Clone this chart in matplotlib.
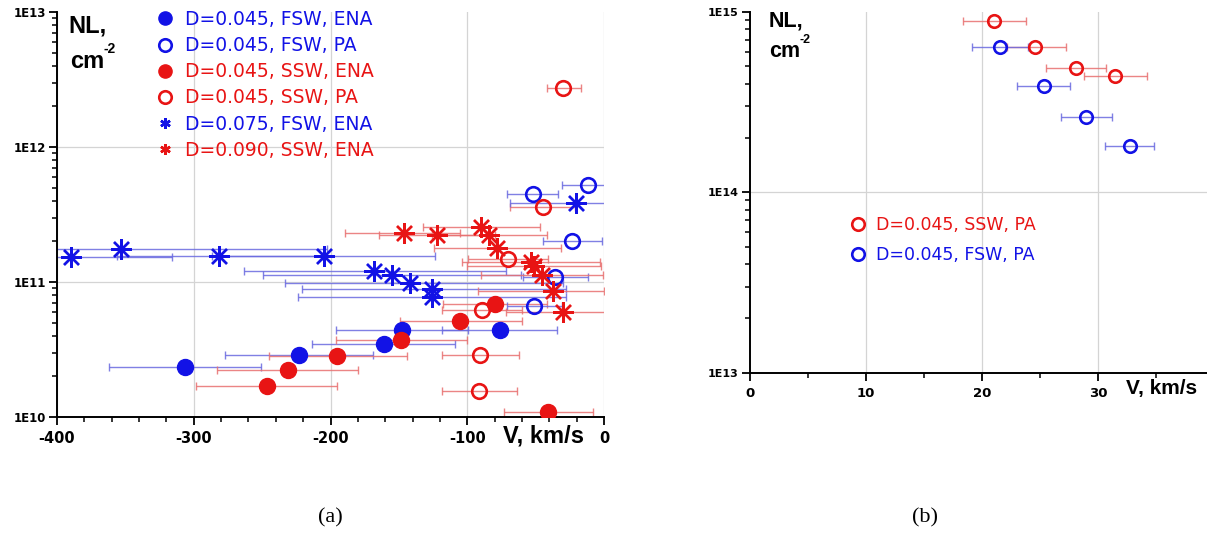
import matplotlib
matplotlib.use('Agg')
import matplotlib.pyplot as plt
from matplotlib.lines import Line2D
from matplotlib.ticker import FixedLocator, LogLocator, NullFormatter, FixedFormatter, MultipleLocator

plt.rcParams['axes.unicode_minus'] = False

# ---------------- data: panel (a) ----------------
fsw_ena_v = [-306.4, -223.3, -161.0, -147.7, -76.1]
fsw_ena_nl = [2.34e10, 2.90e10, 3.49e10, 4.39e10, 4.39e10]
fsw_ena_lo = [-362.3, -277.5, -213.2, -195.8, -118.7]
fsw_ena_hi = [-250.8, -168.9, -108.6, -99.3, -34.1]

fsw_pa_v = [-11.8, -51.8, -23.4, -35.5, -50.9]
fsw_pa_nl = [5.2e11, 4.51e11, 2.01e11, 1.09e11, 6.6e10]
fsw_pa_lo = [-30.6, -71.2, -44.3, -59.0, -71.0]
fsw_pa_hi = [7.0, -33.5, -1.4, -12.0, -31.0]

ssw_ena_v = [-246.8, -231.4, -194.9, -148.3, -105.1, -79.6, -40.8]
ssw_ena_nl = [1.70e10, 2.22e10, 2.81e10, 3.74e10, 5.14e10, 6.92e10, 1.09e10]
ssw_ena_lo = [-298.0, -282.7, -245.3, -195.8, -149.4, -117.6, -72.9]
ssw_ena_hi = [-194.9, -179.6, -144.2, -99.9, -59.6, -41.6, -8.0]

ssw_pa_v = [-29.8, -44.9, -70.4, -89.2, -90.7, -91.2]
ssw_pa_nl = [2.75e12, 3.60e11, 1.49e11, 6.24e10, 2.90e10, 1.55e10]
ssw_pa_lo = [-42.0, -69.0, -99.4, -118.7, -118.7, -118.7]
ssw_pa_hi = [-16.8, -21.0, -41.1, -60.2, -62.3, -63.7]

fsw075_v = [-389.6, -353.4, -281.2, -205.0, -167.9, -155.2, -142.2, -126.0, -126.0, -20.5]
fsw075_nl = [1.53e11, 1.77e11, 1.55e11, 1.56e11, 1.21e11, 1.12e11, 9.84e10, 8.93e10, 7.74e10, 3.85e11]
fsw075_lo = [-463.5, -504.0, -356.0, -286.4, -262.9, -249.1, -233.4, -221.0, -223.6, -68.9]
fsw075_hi = [-315.7, -202.8, -206.0, -123.6, -71.8, -60.8, -29.8, -28.0, -28.0, 27.9]

ssw090_v = [-146.5, -122.0, -89.7, -84.2, -78.1, -53.5, -51.0, -45.7, -37.6, -29.8]
ssw090_nl = [2.32e11, 2.24e11, 2.55e11, 2.22e11, 1.79e11, 1.40e11, 1.32e11, 1.12e11, 8.57e10, 6.0e10]
ssw090_lo = [-189.7, -164.5, -132.6, -126.0, -124.0, -104.0, -100.0, -90.0, -92.0, -72.0]
ssw090_hi = [-105.1, -80.0, -47.1, -42.0, -31.8, -3.0, -2.0, -1.0, 0.0, 12.0]

labels_a = ["D=0.045, FSW, ENA", "D=0.045, FSW, PA", "D=0.045, SSW, ENA",
            "D=0.045, SSW, PA", "D=0.075, FSW, ENA", "D=0.090, SSW, ENA"]

# ---------------- data: panel (b) ----------------
ssw_pa_b_v = [21.04, 24.60, 28.13, 31.44]
ssw_pa_b_nl = [8.93e14, 6.37e14, 4.89e14, 4.40e14]
ssw_pa_b_lo = [18.37, 22.13, 25.55, 28.79]
ssw_pa_b_hi = [23.77, 27.22, 30.72, 34.22]

fsw_pa_b_v = [21.56, 25.32, 28.99, 32.73]
fsw_pa_b_nl = [6.37e14, 3.89e14, 2.60e14, 1.80e14]
fsw_pa_b_lo = [19.15, 23.05, 26.84, 30.60]
fsw_pa_b_hi = [24.0, 27.56, 31.21, 34.79]

labels_b = ["D=0.045, SSW, PA", "D=0.045, FSW, PA"]

a_xticks = [-400, -300, -200, -100, 0]
a_yticks = [1e10, 1e11, 1e12, 1e13]
a_ylabels = ["1E10", "1E11", "1E12", "1E13"]
b_xticks = [0, 10, 20, 30]
b_yticks = [1e13, 1e14, 1e15]
b_ylabels = ["1E13", "1E14", "1E15"]

# ---------------- styling ----------------
BLUE = '#1212e6'
RED = '#e81414'
BLUE_E = '#6a6ae0'
RED_E = '#e87070'
GRID = '#d4d4d4'

W, H = 1207, 533
fig = plt.figure(figsize=(W / 100, H / 100), dpi=100)


def fx(px):
    return px / W


def fy(py):
    return 1 - py / H


axA = fig.add_axes([fx(57), fy(417), fx(604) - fx(57), fy(12) - fy(417)])
axB = fig.add_axes([fx(750), fy(372.7), (W - 750) / W, fy(11.7) - fy(372.7)])


def style(ax, xticks, xminor, yticks, ylabels, xsize, ysize):
    ax.set_yscale('log')
    for s in ['top', 'right']:
        ax.spines[s].set_visible(False)
    for s in ['left', 'bottom']:
        ax.spines[s].set_linewidth(1.4)
    ax.xaxis.set_major_locator(FixedLocator(xticks))
    ax.xaxis.set_minor_locator(MultipleLocator(xminor))
    ax.yaxis.set_major_locator(FixedLocator(yticks))
    ax.yaxis.set_major_formatter(FixedFormatter(ylabels))
    ax.yaxis.set_minor_locator(LogLocator(base=10, subs=range(2, 10)))
    ax.yaxis.set_minor_formatter(NullFormatter())
    ax.tick_params(which='major', direction='out', length=6, width=1.3, pad=4)
    ax.tick_params(which='minor', direction='out', length=3.5, width=1.1)
    ax.tick_params(axis='x', labelsize=xsize)
    ax.tick_params(axis='y', labelsize=ysize, pad=2)
    for lab in ax.get_xticklabels() + ax.get_yticklabels():
        lab.set_fontweight('bold')
        lab.set_fontfamily('DejaVu Sans')
    ax.grid(True, which='major', color=GRID, lw=0.9)
    ax.set_axisbelow(True)


def series(ax, v, nl, lo, hi, marker, mfc, color, ecolor, ms, mew):
    xerr = [[a - b for a, b in zip(v, lo)], [b - a for a, b in zip(v, hi)]]
    ax.errorbar(v, nl, xerr=xerr, fmt='none', ecolor=ecolor, elinewidth=1.0,
                capsize=3, capthick=1.0, alpha=0.85, zorder=2)
    ax.plot(v, nl, ls='none', marker=marker, ms=ms, mew=mew, mec=color,
            mfc=mfc, zorder=3)


STAR = (8, 2, 0)

# panel (a)
series(axA, fsw_ena_v, fsw_ena_nl, fsw_ena_lo, fsw_ena_hi, 'o', BLUE, BLUE, BLUE_E, 11.5, 1.0)
series(axA, ssw_ena_v, ssw_ena_nl, ssw_ena_lo, ssw_ena_hi, 'o', RED, RED, RED_E, 11.5, 1.0)
series(axA, fsw_pa_v, fsw_pa_nl, fsw_pa_lo, fsw_pa_hi, 'o', 'none', BLUE, BLUE_E, 10.5, 1.9)
series(axA, ssw_pa_v, ssw_pa_nl, ssw_pa_lo, ssw_pa_hi, 'o', 'none', RED, RED_E, 10.5, 1.9)
series(axA, fsw075_v, fsw075_nl, fsw075_lo, fsw075_hi, STAR, BLUE, BLUE, BLUE_E, 15, 1.7)
series(axA, ssw090_v, ssw090_nl, ssw090_lo, ssw090_hi, STAR, RED, RED, RED_E, 15, 1.7)

axA.set_xlim(-400, 0)
axA.set_ylim(1e10, 1e13)
style(axA, a_xticks, 20, a_yticks, a_ylabels, 10.5, 8.5)
axA.get_ygridlines()[-1].set_visible(False)

# panel (b)
series(axB, ssw_pa_b_v, ssw_pa_b_nl, ssw_pa_b_lo, ssw_pa_b_hi, 'o', 'none', RED, RED_E, 9, 1.9)
series(axB, fsw_pa_b_v, fsw_pa_b_nl, fsw_pa_b_lo, fsw_pa_b_hi, 'o', 'none', BLUE, BLUE_E, 9, 1.9)
axB.set_xlim(0, (W - 750) / 11.6)
axB.set_ylim(1e13, 1e15)
style(axB, b_xticks, 5, b_yticks, b_ylabels, 9.5, 8)
axB.get_ygridlines()[-1].set_visible(False)
for gl, t in zip(axB.get_xgridlines(), b_xticks):
    if t == 0:
        gl.set_visible(False)

# legends
hA = [Line2D([], [], ls='none', marker='o', ms=9.5, mfc=BLUE, mec=BLUE),
      Line2D([], [], ls='none', marker='o', ms=9, mfc='none', mec=BLUE, mew=1.9),
      Line2D([], [], ls='none', marker='o', ms=9.5, mfc=RED, mec=RED),
      Line2D([], [], ls='none', marker='o', ms=9, mfc='none', mec=RED, mew=1.9),
      Line2D([], [], ls='none', marker=(6, 2, 0), ms=7.5, mec=BLUE, mew=1.8),
      Line2D([], [], ls='none', marker=(6, 2, 0), ms=7.5, mec=RED, mew=1.8)]
legA = axA.legend(hA, labels_a, loc='upper left', bbox_to_anchor=(fx(158), fy(10)),
                  bbox_transform=fig.transFigure, frameon=False,
                  prop={'family': 'DejaVu Sans', 'size': 13.5},
                  handlelength=0.8, handletextpad=0.65, labelspacing=0.38,
                  borderpad=0, borderaxespad=0,
                  labelcolor=[BLUE, BLUE, RED, RED, BLUE, RED])

hB = [Line2D([], [], ls='none', marker='o', ms=9, mfc='none', mec=RED, mew=1.9),
      Line2D([], [], ls='none', marker='o', ms=9, mfc='none', mec=BLUE, mew=1.9)]
legB = axB.legend(hB, labels_b, loc='upper left', bbox_to_anchor=(fx(851), fy(216)),
                  bbox_transform=fig.transFigure, frameon=False,
                  prop={'family': 'DejaVu Sans', 'size': 12.5},
                  handlelength=0.8, handletextpad=0.65, labelspacing=0.7,
                  borderpad=0, borderaxespad=0,
                  labelcolor=[RED, BLUE])

# axis titles
tkw = dict(transform=fig.transFigure, fontweight='bold', family='Liberation Sans',
           va='baseline', ha='left', color='black')
fig.text(fx(68), fy(33), "NL,", fontsize=17, **tkw)
fig.text(fx(70), fy(68), "cm", fontsize=17, **tkw)
fig.text(fx(103), fy(53), "-2", fontsize=10, **tkw)
fig.text(fx(769), fy(27), "NL,", fontsize=15.5, **tkw)
fig.text(fx(769), fy(57), "cm", fontsize=15.5, **tkw)
fig.text(fx(800), fy(43), "-2", fontsize=9, **tkw)

fig.text(fx(584), fy(442), "V, km/s", fontsize=17, transform=fig.transFigure,
         fontweight='bold', family='Liberation Sans', va='baseline', ha='right')
fig.text(fx(1126), fy(394), "V, km/s", fontsize=15, transform=fig.transFigure,
         fontweight='bold', family='Liberation Sans', va='baseline', ha='left')

# captions
fig.text(fx(330), fy(522), "(a)", fontsize=16, family='Liberation Serif',
         ha='center', va='baseline', transform=fig.transFigure)
fig.text(fx(925), fy(522), "(b)", fontsize=16, family='Liberation Serif',
         ha='center', va='baseline', transform=fig.transFigure)

fig.savefig('out.png', dpi=100)
